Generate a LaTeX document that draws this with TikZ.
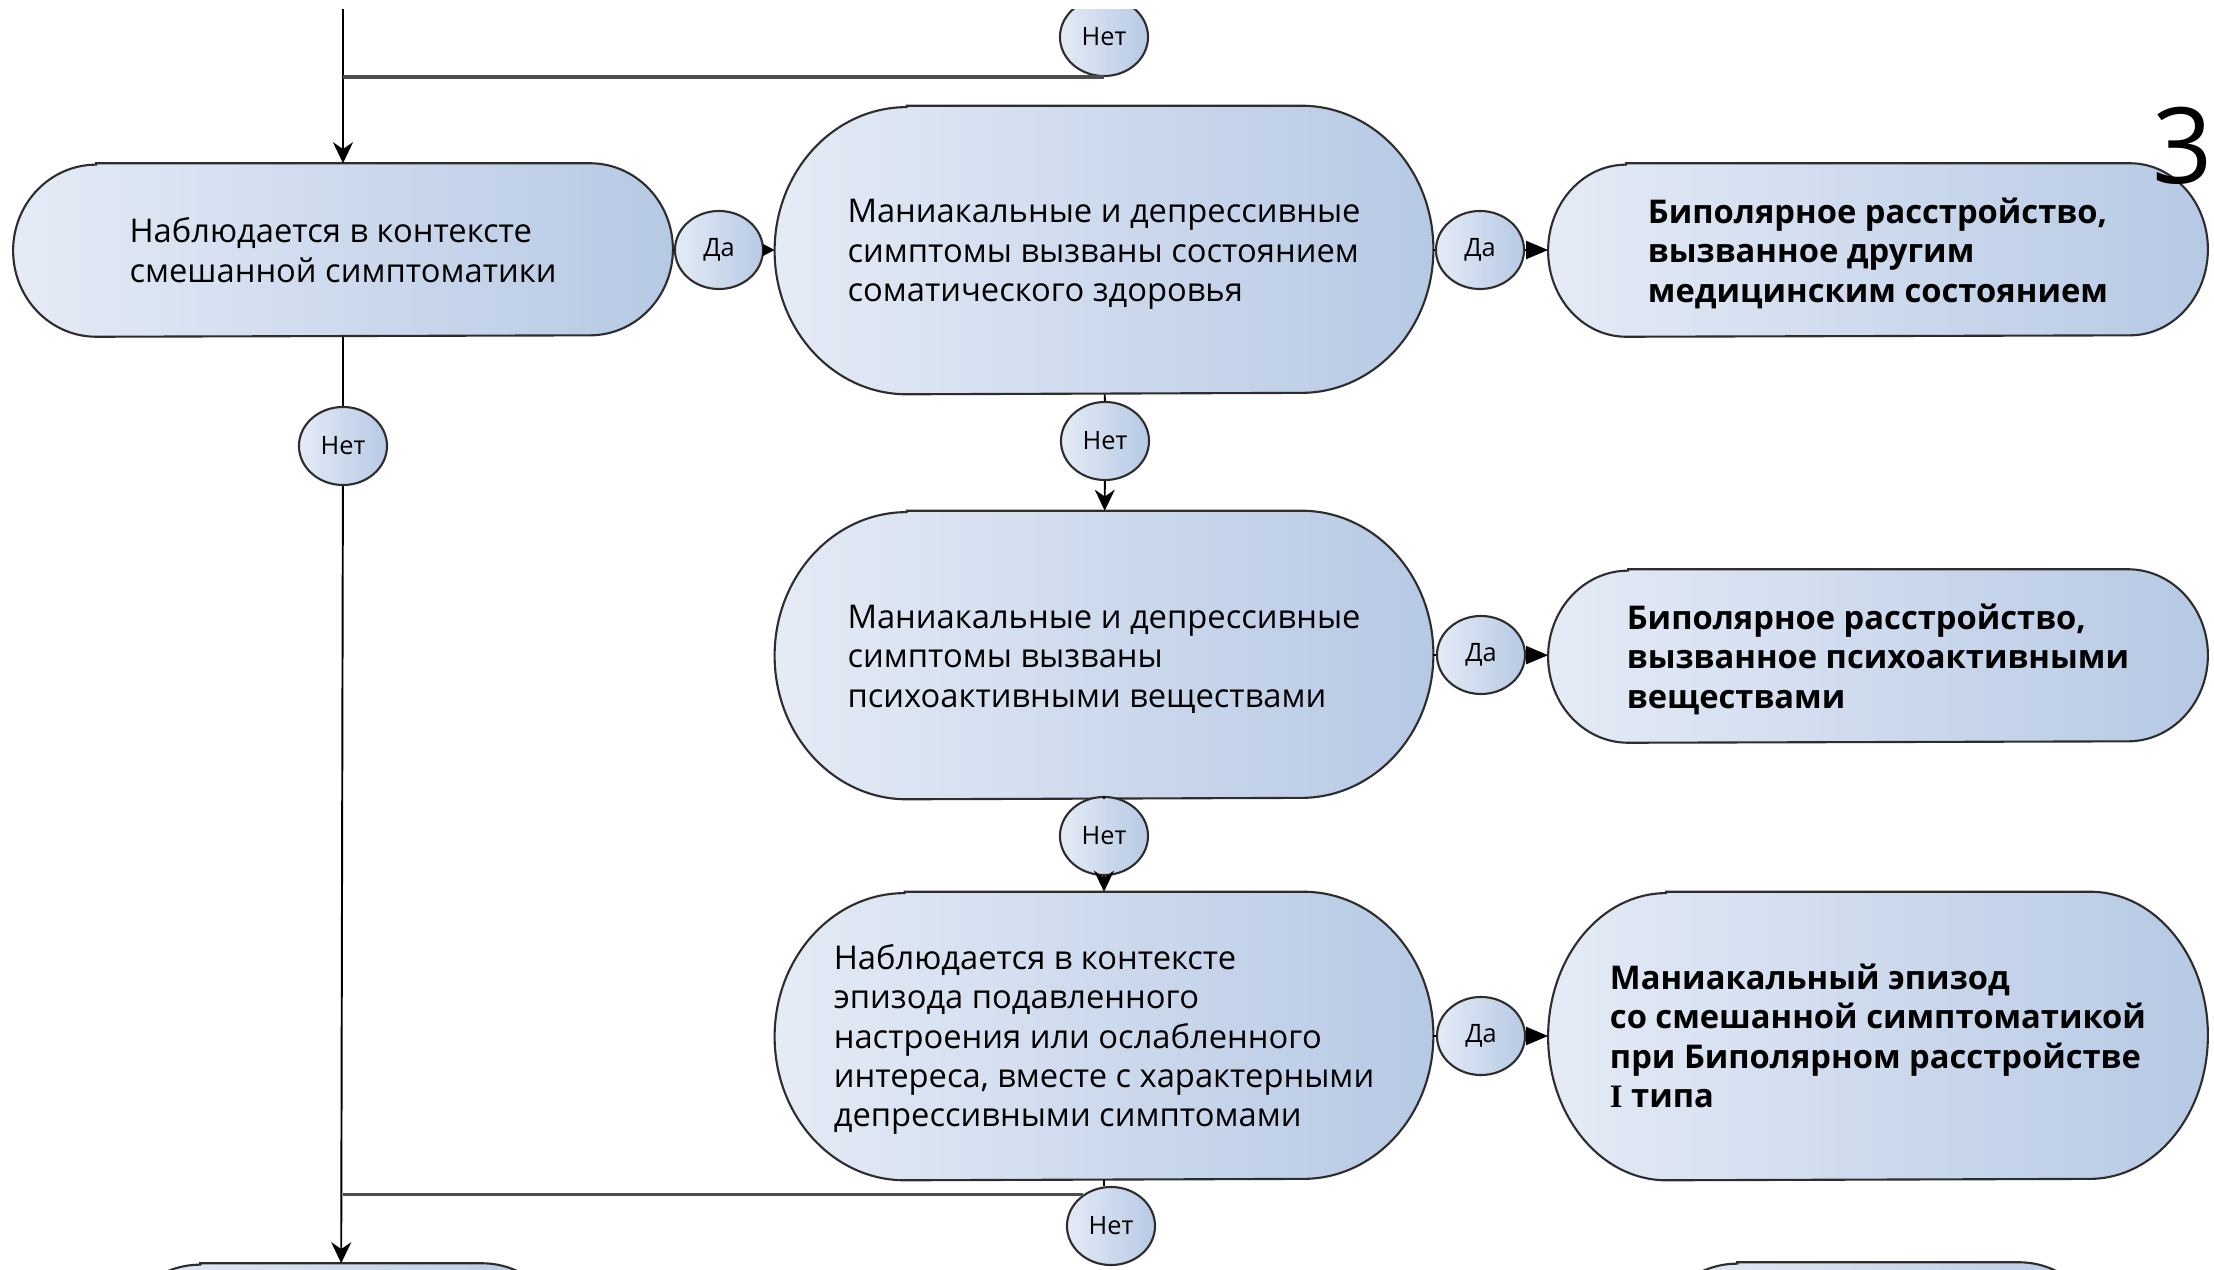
\documentclass[tikz,border=0pt]{standalone}
\usepackage{fontspec}
\setmainfont{Open Sans}
\newfontfamily\romanI{Liberation Serif}
\usepackage{xcolor}
\usepackage{tikz}
\usetikzlibrary{arrows.meta, positioning, calc, shapes.geometric, backgrounds}
\definecolor{pillL}{RGB}{229,235,246}
\definecolor{pillR}{RGB}{182,201,228}
\definecolor{edge}{RGB}{45,45,45}
\newcommand{\tstrut}{\rule{0pt}{0.32cm}}
% outline of a box with elliptic ends: node, x radius, y radius
\newcommand{\pillshape}[3]{%
  \path[pill] ([xshift=#2]#1.north west) -- ([xshift=-#2]#1.north east)
    arc[start angle=90, end angle=-90, x radius=#2, y radius=#3]
    -- ([xshift=#2]#1.south west)
    arc[start angle=270, end angle=90, x radius=#2, y radius=#3] -- cycle;}
\tikzset{
  box/.style={rectangle, inner sep=0pt, align=left, font=\fontsize{9.3}{11.2}\selectfont},
  outcome/.style={box, font=\fontsize{9.3}{11.2}\selectfont\bfseries},
  pill/.style={draw=edge, line width=0.6pt, left color=pillL, right color=pillR},
  answer/.style={ellipse, pill, inner sep=0pt, minimum width=0.88cm, minimum height=0.78cm,
    font=\fontsize{7.2}{8}\selectfont},
  flow/.style={draw=black, line width=0.55pt},
  down/.style={flow, -{Stealth[length=0.21cm, width=0.2cm]}},
  yes/.style={flow, -{Triangle[length=0.22cm, width=0.18cm]}},
  merge/.style={draw=black!70, line width=0.9pt},
}

\begin{document}
\begin{tikzpicture}[x=0.01cm, y=-0.01cm]
  \useasboundingbox (0, 0) rectangle (2214, 1270);
  \clip (0, 10) rectangle (2214, 1270);
  % --- question boxes ----------------------------------------------
  \node[box, minimum width=6.58cm, minimum height=1.72cm] (mixed) at (343, 250)
    {Наблюдается в контексте\\смешанной симптоматики};
  \node[box, minimum width=6.57cm, minimum height=2.87cm] (somatic) at (1104, 250)
    {\tstrut Маниакальные и депрессивные\\симптомы вызваны состоянием\\соматического здоровья};
  \node[box, minimum width=6.57cm, minimum height=2.87cm] (substance) at (1104, 655)
    {\tstrut Маниакальные и депрессивные\\симптомы вызваны\\психоактивными веществами};
  \node[box, minimum width=6.57cm, minimum height=2.87cm] (depressive) at (1104, 1036)
    {\tstrut Наблюдается в контексте\\эпизода подавленного\\настроения или ослабленного\\интереса, вместе с характерными\\депрессивными симптомами};
  \node[box, minimum width=4.5cm, minimum height=1.72cm] (nextq) at (341, 1350) {};
  % --- diagnoses ---------------------------------------------------
  \node[outcome, minimum width=6.58cm, minimum height=1.72cm] (bpmed) at (1878, 250)
    {\tstrut Биполярное расстройство,\\вызванное другим\\медицинским состоянием};
  \node[outcome, minimum width=6.58cm, minimum height=1.72cm] (bpsub) at (1878, 656)
    {\tstrut Биполярное расстройство,\\вызванное психоактивными\\веществами};
  \node[outcome, minimum width=6.58cm, minimum height=2.87cm] (bpmix) at (1878, 1036)
    {Маниакальный эпизод\\со смешанной симптоматикой\\при Биполярном расстройстве\\{\romanI\bfseries I} типа};
  \node[outcome, minimum width=4.5cm, minimum height=1.72cm] (nextd) at (1878, 1349) {};
  % --- answers -----------------------------------------------------
  \node[answer] (no0) at (1104, 37) {Нет};
  \node[answer] (yes1) at (719, 250) {Да};
  \node[answer] (yes2) at (1480, 250) {Да};
  \node[answer] (no1) at (343, 446) {Нет};
  \node[answer] (no2) at (1105, 441) {Нет};
  \node[answer] (yes3) at (1481, 655) {Да};
  \node[answer] (no3) at (1104, 836) {Нет};
  \node[answer] (yes4) at (1481, 1036) {Да};
  \node[answer] (no4) at (1111, 1226) {Нет};
  \node[font=\fontsize{30}{30}\selectfont] (num) at (2183, 146) {3};
  % box outlines behind the texts
  \begin{scope}[on background layer]
    \pillshape{mixed}{0.83cm}{0.86cm}
    \pillshape{somatic}{1.32cm}{1.435cm}
    \pillshape{substance}{1.32cm}{1.435cm}
    \pillshape{depressive}{1.3cm}{1.435cm}
    \pillshape{nextq}{0.85cm}{0.86cm}
    \pillshape{bpmed}{0.78cm}{0.86cm}
    \pillshape{bpsub}{0.8cm}{0.86cm}
    \pillshape{bpmix}{1.18cm}{1.435cm}
    \pillshape{nextd}{0.85cm}{0.86cm}
  \end{scope}
  % --- left trunk --------------------------------------------------
  \coordinate (top) at (343, 0);
  \draw[down] (top) -- (mixed);
  \draw[merge] (no0.south) -- (no0.south -| top);
  \draw[flow] (mixed) -- (no1);
  \draw[down] (no1) -- (nextq);
  \draw[merge] (no4.131) -- (no4.131 -| top);
  % --- yes branches ------------------------------------------------
  \draw[flow] (mixed) -- (yes1);
  \draw[flow, -{Triangle[length=0.12cm, width=0.12cm]}] (yes1) -- (somatic);
  \draw[flow] (somatic) -- (yes2);
  \draw[yes] (yes2) -- (bpmed);
  \draw[flow] (substance) -- (yes3);
  \draw[yes] (yes3) -- (bpsub);
  \draw[flow] (depressive) -- (yes4);
  \draw[yes] (yes4) -- (bpmix);
  % --- no branches -------------------------------------------------
  \draw[flow] (somatic) -- (no2);
  \draw[down] (no2) -- (substance);
  \draw[flow] (substance) -- (no3);
  \draw[down] (no3) -- (depressive);
  \draw[flow] (depressive.south) -- (depressive.south |- no4.north);
\end{tikzpicture}
\end{document}
